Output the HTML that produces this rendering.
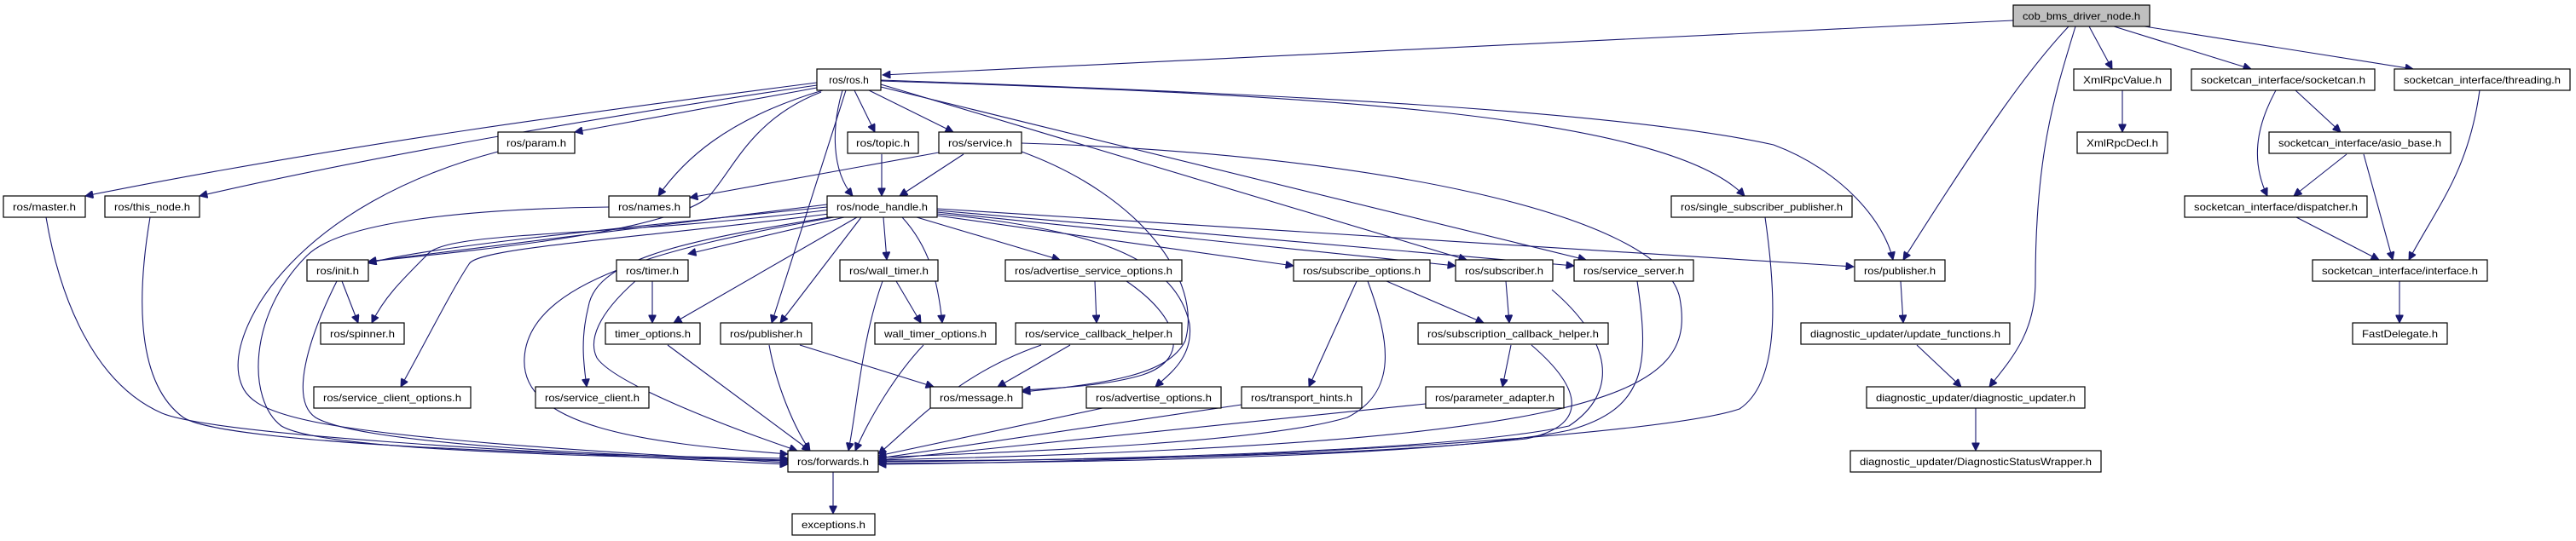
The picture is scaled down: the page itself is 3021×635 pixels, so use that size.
<!DOCTYPE html>
<html><head><meta charset="utf-8"><style>
html,body{margin:0;padding:0;background:#fff;}
svg{display:block;}
text{font-family:"Liberation Sans",sans-serif;font-size:12px;fill:#000;}
.e{fill:none;stroke:#191970;stroke-width:1.1;marker-end:url(#a);}
.n{fill:#fff;stroke:#000;stroke-width:1.2;}
</style></head><body>
<svg width="3021" height="635" viewBox="0 0 3021 635" xmlns="http://www.w3.org/2000/svg">
<defs><marker id="a" viewBox="0 0 10 10" refX="10" refY="5" markerWidth="11" markerHeight="9" markerUnits="userSpaceOnUse" orient="auto"><path d="M0,0 L10,5 L0,10 z" fill="#191970" stroke="#191970"/></marker></defs>
<g>
<path class="e" d="M2361,24 L1035,88"/>
<path class="e" d="M2426,31 C2380,80 2330,150 2232,305"/>
<path class="e" d="M2434,31 C2410,110 2387,180 2387,330 C2387,390 2360,420 2333,454"/>
<path class="e" d="M2450,31 L2477,81"/>
<path class="e" d="M2479,31 L2640,81"/>
<path class="e" d="M2515,31 L2830,81"/>
<path class="e" d="M2489,106 L2489,155"/>
<path class="e" d="M2692,106 L2745,155"/>
<path class="e" d="M2669,106 C2645,150 2640,190 2659,230"/>
<path class="e" d="M2752,181 L2690,230"/>
<path class="e" d="M2772,181 L2806,305"/>
<path class="e" d="M2908,106 C2895,200 2860,240 2825,305"/>
<path class="e" d="M2693,255 L2790,305"/>
<path class="e" d="M2814,330 L2814,379"/>
<path class="e" d="M2229,330 L2232,379"/>
<path class="e" d="M2248,405 L2300,454"/>
<path class="e" d="M2317,479 L2317,529"/>

<path class="e" d="M958,97 C700,130 400,170 100,230"/>
<path class="e" d="M958,100 C750,130 450,180 234,230"/>
<path class="e" d="M958,103 L674,155"/>
<path class="e" d="M965,106 C850,140 800,190 772,230"/>
<path class="e" d="M963,108 C880,140 860,200 830,232 C780,270 600,290 432,307"/>
<path class="e" d="M1002,106 L1026,155"/>
<path class="e" d="M1019,106 L1118,155"/>
<path class="e" d="M988,106 C975,150 975,200 1000,230"/>
<path class="e" d="M992,106 L905,379"/>
<path class="e" d="M1033,99 L1720,305"/>
<path class="e" d="M1033,102 L1860,305"/>
<path class="e" d="M1033,95 C1500,110 1950,130 2046,230"/>
<path class="e" d="M1033,94 C1500,110 1900,130 2080,170 C2160,200 2210,260 2220,305"/>

<path class="e" d="M1101,179 L809,232"/>
<path class="e" d="M1130,181 L1055,230"/>
<path class="e" d="M1198,178 C1340,230 1410,330 1390,400 C1370,440 1300,450 1199,460"/>
<path class="e" d="M1198,168 C1600,180 1950,250 1970,350 C1990,460 1900,520 1030,540"/>
<path class="e" d="M1034,181 L1034,230"/>

<path class="e" d="M714,243 C550,245 400,260 360,300 C290,370 290,470 330,500 C380,530 700,535 924,541"/>
<path class="e" d="M584,178 C350,240 270,380 280,440 C290,490 330,510 924,543"/>
<path class="e" d="M54,255 C70,350 110,450 190,485 C250,510 600,530 924,545"/>
<path class="e" d="M176,255 C160,350 160,450 215,490 C260,520 650,535 924,538"/>

<path class="e" d="M970,240 L432,307"/>
<path class="e" d="M970,243 C700,270 500,290 432,309"/>
<path class="e" d="M975,246 C700,280 520,270 500,300 C470,330 450,350 436,379"/>
<path class="e" d="M980,250 C750,280 560,290 550,310 C530,340 500,400 470,454"/>
<path class="e" d="M985,253 C820,280 700,300 690,360 C680,400 685,430 688,454"/>
<path class="e" d="M978,255 C780,290 620,330 615,420 C610,500 750,520 924,533"/>
<path class="e" d="M990,255 L807,298"/>
<path class="e" d="M1005,255 L790,379"/>
<path class="e" d="M1010,255 L915,379"/>
<path class="e" d="M1036,255 L1040,305"/>
<path class="e" d="M1058,255 C1090,290 1100,330 1105,379"/>
<path class="e" d="M1075,255 L1243,305"/>
<path class="e" d="M1099,251 C1300,270 1380,310 1395,380 C1400,420 1370,440 1355,454"/>
<path class="e" d="M1099,253 L1517,312"/>
<path class="e" d="M1099,249 L1707,312"/>
<path class="e" d="M1099,247 L1846,312"/>
<path class="e" d="M1099,245 L2174,313"/>

<path class="e" d="M401,330 L420,379"/>
<path class="e" d="M395,330 C360,400 340,470 370,490 C420,520 700,535 924,540"/>
<path class="e" d="M765,330 L765,379"/>
<path class="e" d="M745,330 C700,370 690,400 700,420 C720,450 850,500 935,529"/>
<path class="e" d="M783,405 L950,529"/>
<path class="e" d="M902,405 C910,450 930,500 950,529"/>
<path class="e" d="M938,405 L1095,454"/>
<path class="e" d="M1035,330 C1010,400 1005,480 995,529"/>
<path class="e" d="M1051,330 L1080,379"/>
<path class="e" d="M1083,405 C1050,440 1020,490 1003,529"/>
<path class="e" d="M1284,330 L1286,379"/>
<path class="e" d="M1321,330 C1380,370 1400,420 1340,440 C1300,452 1250,455 1199,458"/>
<path class="e" d="M1255,405 L1170,454"/>
<path class="e" d="M1221,405 C1120,440 1070,500 1030,533"/>
<path class="e" d="M1293,479 L1030,535"/>
<path class="e" d="M1591,330 L1535,454"/>
<path class="e" d="M1604,330 C1630,400 1640,460 1580,490 C1480,520 1200,530 1030,537"/>
<path class="e" d="M1626,330 L1740,379"/>
<path class="e" d="M1766,330 L1770,379"/>
<path class="e" d="M1820,340 C1890,400 1900,460 1840,500 C1700,530 1300,540 1030,542"/>
<path class="e" d="M1920,330 C1935,430 1930,480 1840,505 C1700,535 1300,543 1030,544"/>
<path class="e" d="M1456,475 L1030,538"/>
<path class="e" d="M1772,405 L1762,454"/>
<path class="e" d="M1796,405 C1860,460 1860,500 1790,515 C1600,535 1300,540 1030,541"/>
<path class="e" d="M1672,474 L1030,540"/>
<path class="e" d="M2070,255 C2085,360 2085,450 2040,480 C1950,510 1500,540 1030,545"/>
<path class="e" d="M977,554 L977,603"/>
</g>
<g>
<rect x="2361" y="6" width="160" height="25" fill="#bfbfbf" stroke="#000" stroke-width="1.2"/><text x="2441" y="23" text-anchor="middle" textLength="138" lengthAdjust="spacingAndGlyphs">cob_bms_driver_node.h</text>
<rect class="n" x="958" y="81" width="75" height="25"/><text x="995.5" y="98" text-anchor="middle">ros/ros.h</text>
<rect class="n" x="2432" y="81" width="114" height="25"/><text x="2489" y="98" text-anchor="middle" textLength="92" lengthAdjust="spacingAndGlyphs">XmlRpcValue.h</text>
<rect class="n" x="2570" y="81" width="215" height="25"/><text x="2677.5" y="98" text-anchor="middle" textLength="193" lengthAdjust="spacingAndGlyphs">socketcan_interface/socketcan.h</text>
<rect class="n" x="2808" y="81" width="206" height="25"/><text x="2911" y="98" text-anchor="middle" textLength="184" lengthAdjust="spacingAndGlyphs">socketcan_interface/threading.h</text>
<rect class="n" x="584" y="155" width="90" height="25"/><text x="629" y="172" text-anchor="middle" textLength="70" lengthAdjust="spacingAndGlyphs">ros/param.h</text>
<rect class="n" x="994" y="155" width="83" height="25"/><text x="1035.5" y="172" text-anchor="middle" textLength="63" lengthAdjust="spacingAndGlyphs">ros/topic.h</text>
<rect class="n" x="1101" y="155" width="97" height="25"/><text x="1149.5" y="172" text-anchor="middle" textLength="75" lengthAdjust="spacingAndGlyphs">ros/service.h</text>
<rect class="n" x="2436" y="155" width="106" height="25"/><text x="2489" y="172" text-anchor="middle" textLength="84" lengthAdjust="spacingAndGlyphs">XmlRpcDecl.h</text>
<rect class="n" x="2661" y="155" width="213" height="25"/><text x="2767.5" y="172" text-anchor="middle" textLength="191" lengthAdjust="spacingAndGlyphs">socketcan_interface/asio_base.h</text>
<rect class="n" x="4" y="230" width="96" height="25"/><text x="52" y="247" text-anchor="middle" textLength="74" lengthAdjust="spacingAndGlyphs">ros/master.h</text>
<rect class="n" x="123" y="230" width="111" height="25"/><text x="178.5" y="247" text-anchor="middle" textLength="89" lengthAdjust="spacingAndGlyphs">ros/this_node.h</text>
<rect class="n" x="714" y="230" width="95" height="25"/><text x="761.5" y="247" text-anchor="middle" textLength="73" lengthAdjust="spacingAndGlyphs">ros/names.h</text>
<rect class="n" x="970" y="230" width="129" height="25"/><text x="1034.5" y="247" text-anchor="middle" textLength="107" lengthAdjust="spacingAndGlyphs">ros/node_handle.h</text>
<rect class="n" x="1960" y="230" width="212" height="25"/><text x="2066" y="247" text-anchor="middle" textLength="190" lengthAdjust="spacingAndGlyphs">ros/single_subscriber_publisher.h</text>
<rect class="n" x="2562" y="230" width="214" height="25"/><text x="2669" y="247" text-anchor="middle" textLength="192" lengthAdjust="spacingAndGlyphs">socketcan_interface/dispatcher.h</text>
<rect class="n" x="360" y="305" width="72" height="25"/><text x="396" y="322" text-anchor="middle" textLength="50" lengthAdjust="spacingAndGlyphs">ros/init.h</text>
<rect class="n" x="723" y="305" width="84" height="25"/><text x="765" y="322" text-anchor="middle" textLength="62" lengthAdjust="spacingAndGlyphs">ros/timer.h</text>
<rect class="n" x="985" y="305" width="115" height="25"/><text x="1042.5" y="322" text-anchor="middle" textLength="93" lengthAdjust="spacingAndGlyphs">ros/wall_timer.h</text>
<rect class="n" x="1179" y="305" width="207" height="25"/><text x="1282.5" y="322" text-anchor="middle" textLength="185" lengthAdjust="spacingAndGlyphs">ros/advertise_service_options.h</text>
<rect class="n" x="1517" y="305" width="160" height="25"/><text x="1597" y="322" text-anchor="middle" textLength="138" lengthAdjust="spacingAndGlyphs">ros/subscribe_options.h</text>
<rect class="n" x="1707" y="305" width="114" height="25"/><text x="1764" y="322" text-anchor="middle" textLength="92" lengthAdjust="spacingAndGlyphs">ros/subscriber.h</text>
<rect class="n" x="1846" y="305" width="140" height="25"/><text x="1916" y="322" text-anchor="middle" textLength="118" lengthAdjust="spacingAndGlyphs">ros/service_server.h</text>
<rect class="n" x="2175" y="305" width="106" height="25"/><text x="2228" y="322" text-anchor="middle" textLength="84" lengthAdjust="spacingAndGlyphs">ros/publisher.h</text>
<rect class="n" x="2712" y="305" width="205" height="25"/><text x="2814.5" y="322" text-anchor="middle" textLength="183" lengthAdjust="spacingAndGlyphs">socketcan_interface/interface.h</text>
<rect class="n" x="376" y="379" width="98" height="25"/><text x="425" y="396" text-anchor="middle" textLength="76" lengthAdjust="spacingAndGlyphs">ros/spinner.h</text>
<rect class="n" x="710" y="379" width="111" height="25"/><text x="765.5" y="396" text-anchor="middle" textLength="89" lengthAdjust="spacingAndGlyphs">timer_options.h</text>
<rect class="n" x="845" y="379" width="107" height="25"/><text x="898.5" y="396" text-anchor="middle" textLength="85" lengthAdjust="spacingAndGlyphs">ros/publisher.h</text>
<rect class="n" x="1026" y="379" width="142" height="25"/><text x="1097" y="396" text-anchor="middle" textLength="120" lengthAdjust="spacingAndGlyphs">wall_timer_options.h</text>
<rect class="n" x="1191" y="379" width="195" height="25"/><text x="1288.5" y="396" text-anchor="middle" textLength="173" lengthAdjust="spacingAndGlyphs">ros/service_callback_helper.h</text>
<rect class="n" x="1663" y="379" width="223" height="25"/><text x="1774.5" y="396" text-anchor="middle" textLength="201" lengthAdjust="spacingAndGlyphs">ros/subscription_callback_helper.h</text>
<rect class="n" x="2112" y="379" width="245" height="25"/><text x="2234.5" y="396" text-anchor="middle" textLength="223" lengthAdjust="spacingAndGlyphs">diagnostic_updater/update_functions.h</text>
<rect class="n" x="2759" y="379" width="111" height="25"/><text x="2814.5" y="396" text-anchor="middle" textLength="89" lengthAdjust="spacingAndGlyphs">FastDelegate.h</text>
<rect class="n" x="368" y="454" width="184" height="25"/><text x="460" y="471" text-anchor="middle" textLength="162" lengthAdjust="spacingAndGlyphs">ros/service_client_options.h</text>
<rect class="n" x="628" y="454" width="133" height="25"/><text x="694.5" y="471" text-anchor="middle" textLength="111" lengthAdjust="spacingAndGlyphs">ros/service_client.h</text>
<rect class="n" x="1091" y="454" width="108" height="25"/><text x="1145" y="471" text-anchor="middle" textLength="86" lengthAdjust="spacingAndGlyphs">ros/message.h</text>
<rect class="n" x="1274" y="454" width="158" height="25"/><text x="1353" y="471" text-anchor="middle" textLength="136" lengthAdjust="spacingAndGlyphs">ros/advertise_options.h</text>
<rect class="n" x="1456" y="454" width="141" height="25"/><text x="1526.5" y="471" text-anchor="middle" textLength="119" lengthAdjust="spacingAndGlyphs">ros/transport_hints.h</text>
<rect class="n" x="1672" y="454" width="162" height="25"/><text x="1753" y="471" text-anchor="middle" textLength="140" lengthAdjust="spacingAndGlyphs">ros/parameter_adapter.h</text>
<rect class="n" x="2189" y="454" width="256" height="25"/><text x="2317" y="471" text-anchor="middle" textLength="234" lengthAdjust="spacingAndGlyphs">diagnostic_updater/diagnostic_updater.h</text>
<rect class="n" x="924" y="529" width="106" height="25"/><text x="977" y="546" text-anchor="middle" textLength="84" lengthAdjust="spacingAndGlyphs">ros/forwards.h</text>
<rect class="n" x="2170" y="529" width="294" height="25"/><text x="2317" y="546" text-anchor="middle" textLength="272" lengthAdjust="spacingAndGlyphs">diagnostic_updater/DiagnosticStatusWrapper.h</text>
<rect class="n" x="929" y="603" width="97" height="25"/><text x="977.5" y="620" text-anchor="middle" textLength="75" lengthAdjust="spacingAndGlyphs">exceptions.h</text>
</g>
</svg>
</body></html>
